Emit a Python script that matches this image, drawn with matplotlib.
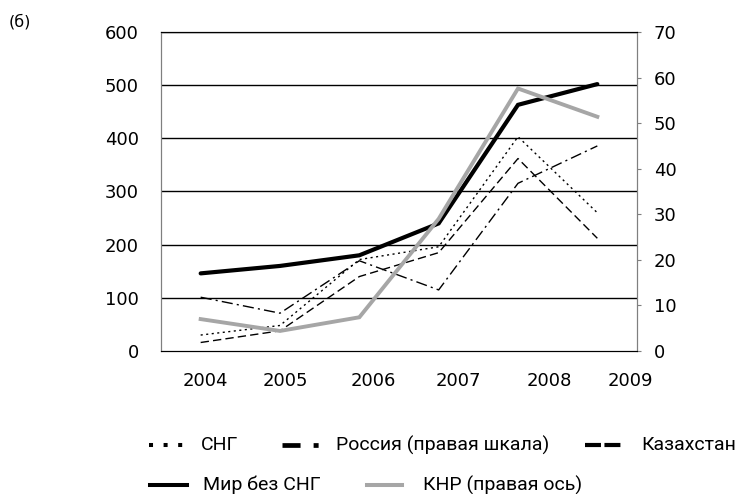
import numpy as np
import matplotlib
matplotlib.use("Agg")
import matplotlib.pyplot as plt
from matplotlib.lines import Line2D

plt.rcParams['lines.scale_dashes'] = False
plt.rcParams['font.family'] = ['DejaVu Sans']

# data
years = ['2004', '2005', '2006', '2007', '2008', '2009']
sng = [30, 48, 172, 196, 403, 260]            # left axis
kazakhstan = [16, 38, 140, 185, 362, 212]     # left axis
world_ex_sng = [146, 160, 180, 240, 463, 502] # left axis
russia = [11.8, 8.3, 19.8, 13.4, 36.8, 45]    # right axis
china = [7, 4.4, 7.4, 29, 57.6, 51.4]         # right axis

left_ticks = [0, 100, 200, 300, 400, 500, 600]
right_ticks = [0, 10, 20, 30, 40, 50, 60, 70]

x = np.arange(len(years))

fig = plt.figure(figsize=(7.41, 4.94), dpi=100)
ax = fig.add_axes([161 / 741, 1 - 351 / 494, 476 / 741, 319 / 494])
ax2 = ax.twinx()

ax.set_xlim(-0.5, 5.5)
ax.set_ylim(0, 600)
ax2.set_ylim(0, 70)

# grid on the left scale
for v in left_ticks[1:]:
    ax.axhline(v, color='black', lw=1.0, zorder=1)

ax.plot(x, sng, color='black', lw=1.0, dashes=(1.5, 2.5), zorder=3)
ax.plot(x, kazakhstan, color='black', lw=1.0, dashes=(6, 3), zorder=3)
ax.plot(x, world_ex_sng, color='black', lw=3.0, solid_capstyle='round',
        solid_joinstyle='miter', zorder=4)
ax2.plot(x, russia, color='black', lw=1.0, dashes=(8, 3, 1.5, 3), zorder=3)
ax2.plot(x, china, color='#a6a6a6', lw=2.8, solid_joinstyle='miter', zorder=5)

for a in (ax, ax2):
    a.spines['left'].set_color('#7f7f7f')
    a.spines['right'].set_color('#7f7f7f')
    a.spines['top'].set_color('black')
    a.spines['bottom'].set_color('black')

ax.set_yticks(left_ticks)
ax.set_yticklabels([str(t) for t in left_ticks])
ax.tick_params(axis='y', length=0, pad=16, labelsize=13)

ax2.set_yticks(right_ticks)
ax2.set_yticklabels([str(t) for t in right_ticks])
ax2.tick_params(axis='y', length=3, color='#7f7f7f', pad=9, labelsize=13)

# year labels sit slightly right of the points in the original
ax.set_xticks([0.06, 1.07, 2.17, 3.25, 4.39, 5.42])
ax.set_xticklabels(years)
ax.tick_params(axis='x', length=0, pad=15, labelsize=13)

fig.text(9 / 741, 1 - 22 / 494, '(б)', fontsize=11.5, va='center', ha='left')


def legend_item(x0, x1, y, text, tx, **kw):
    yf = 1 - y / 494
    fig.add_artist(Line2D([x0 / 741, x1 / 741], [yf, yf],
                          transform=fig.transFigure, **kw))
    fig.text(tx / 741, yf, text, fontsize=14, va='center', ha='left',
             family='Roboto')


legend_item(149, 183, 445, 'СНГ', 201, color='black', lw=2.9, dashes=(2.9, 7.6))
legend_item(282, 320, 445, 'Россия (правая шкала)', 336, color='black', lw=3.4,
            dashes=(13, 9.4, 3.6, 20))
legend_item(585, 622, 445, 'Казахстан', 641, color='black', lw=3.0,
            dashes=(11.5, 2.5))
legend_item(150, 187, 485, 'Мир без СНГ', 203, color='black', lw=2.9)
legend_item(367, 402, 485, 'КНР (правая ось)', 423, color='#a6a6a6', lw=2.9)

fig.savefig('out.png', dpi=100)
